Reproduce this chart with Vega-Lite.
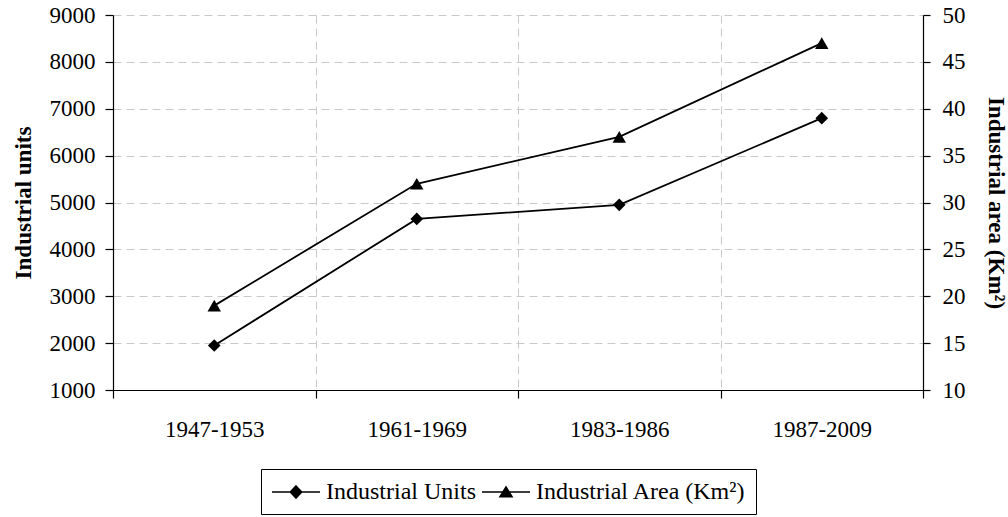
{
  "$schema": "https://vega.github.io/schema/vega-lite/v6.json",
  "autosize": {"type": "none"},
  "width": 810,
  "height": 375,
  "padding": {"left": 113, "top": 15, "right": 85, "bottom": 127},
  "background": "white",
  "config": {
    "font": "Liberation Serif",
    "view": {"stroke": null},
    "axis": {
      "labelFont": "Liberation Serif",
      "titleFont": "Liberation Serif",
      "labelFontSize": 23,
      "titleFontSize": 23,
      "titleFontWeight": "bold",
      "labelColor": "black",
      "titleColor": "black",
      "domainColor": "black",
      "tickColor": "black",
      "domainWidth": 1.2,
      "tickWidth": 1.2
    }
  },
  "data": {
    "values": [
      {"period": "1947-1953", "series": "Industrial Units", "value": 1950},
      {"period": "1961-1969", "series": "Industrial Units", "value": 4650},
      {"period": "1983-1986", "series": "Industrial Units", "value": 4950},
      {"period": "1987-2009", "series": "Industrial Units", "value": 6800},
      {"period": "1947-1953", "series": "Industrial Area (Km²)", "value": 19},
      {"period": "1961-1969", "series": "Industrial Area (Km²)", "value": 32},
      {"period": "1983-1986", "series": "Industrial Area (Km²)", "value": 37},
      {"period": "1987-2009", "series": "Industrial Area (Km²)", "value": 47}
    ]
  },
  "encoding": {
    "x": {
      "field": "period",
      "type": "nominal",
      "sort": null,
      "scale": {"paddingInner": 0, "paddingOuter": 0},
      "axis": {
        "title": null,
        "labelAngle": 0,
        "tickBand": "extent",
        "tickSize": 8,
        "labelPadding": 20,
        "grid": true,
        "gridDash": [8, 5],
        "gridColor": "#c8c8c8",
        "gridWidth": 1
      }
    }
  },
  "layer": [
    {
      "transform": [{"filter": "datum.series === 'Industrial Units'"}],
      "encoding": {
        "y": {
          "field": "value",
          "type": "quantitative",
          "scale": {"domain": [1000, 9000], "nice": false, "zero": false},
          "axis": {
            "orient": "left",
            "title": "Industrial units",
            "format": "d",
            "values": [1000, 2000, 3000, 4000, 5000, 6000, 7000, 8000, 9000],
            "tickSize": 8,
            "labelPadding": 10,
            "titlePadding": 14,
            "grid": true,
            "gridDash": [8, 5],
            "gridColor": "#c8c8c8",
            "gridWidth": 1
          }
        }
      },
      "layer": [
        {"mark": {"type": "line", "color": "black", "strokeWidth": 1.8}},
        {"mark": {"type": "point", "shape": "diamond", "filled": true, "color": "black", "opacity": 1, "size": 160}},
        {
          "mark": {"type": "point", "filled": false, "color": "black", "strokeWidth": 1.6, "opacity": 0},
          "encoding": {
            "shape": {
              "field": "series",
              "type": "nominal",
              "scale": {
                "domain": ["Industrial Units", "Industrial Area (Km²)"],
                "range": [
                  "M-1,0H3M1,-0.5L1.47,0L1,0.5L0.53,0ZM1,-0.4L1.37,0L1,0.4L0.63,0ZM1,-0.29L1.27,0L1,0.29L0.73,0ZM1,-0.18L1.17,0L1,0.18L0.83,0ZM1,-0.08L1.07,0L1,0.08L0.93,0Z",
                  "M-1,0H3M1,-0.42L1.5,0.4L0.5,0.4ZM1,-0.283L1.375,0.332L0.625,0.332ZM1,-0.147L1.25,0.264L0.75,0.264ZM1,-0.01L1.125,0.195L0.875,0.195Z"
                ]
              },
              "legend": {
                "title": null,
                "orient": "none",
                "legendX": 148,
                "legendY": 454,
                "direction": "horizontal",
                "columns": 2,
                "columnPadding": 2,
                "padding": 10,
                "strokeColor": "black",
                "fillColor": "white",
                "symbolSize": 576,
                "symbolOpacity": 1,
                "symbolStrokeColor": "black",
                "symbolStrokeWidth": 1.6,
                "labelOffset": 29,
                "labelFont": "Liberation Serif",
                "labelFontSize": 24,
                "labelColor": "black",
                "labelLimit": 400
              }
            }
          }
        }
      ]
    },
    {
      "transform": [{"filter": "datum.series === 'Industrial Area (Km²)'"}],
      "encoding": {
        "y": {
          "field": "value",
          "type": "quantitative",
          "scale": {"domain": [10, 50], "nice": false, "zero": false},
          "axis": {
            "orient": "right",
            "title": "Industrial area (Km²)",
            "values": [10, 15, 20, 25, 30, 35, 40, 45, 50],
            "tickSize": 7,
            "labelPadding": 12,
            "titlePadding": 18,
            "grid": false
          }
        }
      },
      "layer": [
        {"mark": {"type": "line", "color": "black", "strokeWidth": 1.8}},
        {"mark": {"type": "point", "shape": "triangle-up", "filled": true, "color": "black", "opacity": 1, "size": 180}},
        {
          "mark": {"type": "point", "filled": false, "color": "black", "strokeWidth": 1.6, "opacity": 0},
          "encoding": {
            "shape": {"field": "series", "type": "nominal"}
          }
        }
      ]
    }
  ],
  "resolve": {"scale": {"y": "independent"}}
}
